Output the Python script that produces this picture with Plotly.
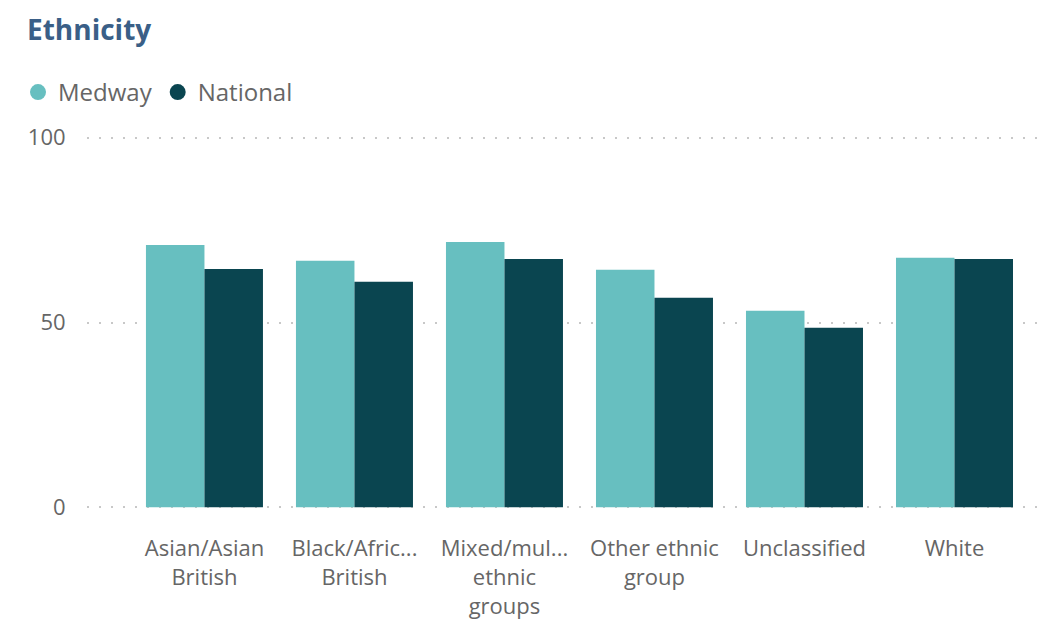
import plotly.graph_objects as go

categories = ["Asian/Asian British", "Black/African/Caribbean/Black British",
              "Mixed/multiple ethnic groups", "Other ethnic group", "Unclassified", "White"]
tick_labels = ["Asian/Asian<br>British", "Black/Afric...<br>British", "Mixed/mul...<br>ethnic<br>groups",
               "Other ethnic<br>group", "Unclassified", "White"]
medway = [71.0, 66.7, 71.8, 64.3, 53.2, 67.5]
national = [64.5, 61.0, 67.2, 56.7, 48.6, 67.2]
y_ticks = [0, 50, 100]

c_medway = "#67bfc0"
c_national = "#0a4550"
font_family = "Segoe UI, Open Sans, sans-serif"

# page offset (body margin) of 8px is taken into account
OFF = 8
plot_left = 87 - OFF
plot_top = 133.6 - OFF
plot_bottom = 511.0 - OFF
plot_h = plot_bottom - plot_top

fig = go.Figure()
fig.add_trace(go.Bar(x=categories, y=medway, name="Medway", marker_color=c_medway,
                     marker_line_width=0, showlegend=False))
fig.add_trace(go.Bar(x=categories, y=national, name="National", marker_color=c_national,
                     marker_line_width=0, showlegend=False))
# legend entries with circle symbols
for nm, col in [("Medway", c_medway), ("National", c_national)]:
    fig.add_trace(go.Scatter(x=[None], y=[None], mode="markers", name=nm,
                             marker=dict(symbol="circle", size=20, color=col)))

plot_w = 1047 - plot_left
fig.update_layout(
    width=1047, height=634,
    margin=dict(l=plot_left, r=0, t=plot_top, b=634 - plot_bottom, pad=0),
    paper_bgcolor="white", plot_bgcolor="white",
    barmode="group", bargap=0.22, bargroupgap=0,
    font=dict(family=font_family, color="#666666"),
    title=dict(text="<b>Ethnicity</b>", xref="container", yref="container",
               x=(27 - OFF) / 1047, xanchor="left", y=1 - (30 - OFF) / 634, yanchor="middle",
               font=dict(size=28, color="#3a5f87", family=font_family)),
    legend=dict(orientation="h", x=(18 - OFF - plot_left) / plot_w, xanchor="left",
                y=1 + (plot_top - (92 - OFF)) / plot_h, yanchor="middle",
                font=dict(size=24, color="#666666"), itemclick=False, bgcolor="rgba(0,0,0,0)",
                traceorder="normal", itemwidth=30),
    xaxis=dict(type="category", range=[-0.783, (1047 - 196.5) / 150], tickmode="array",
               tickvals=categories, ticktext=tick_labels, showgrid=False, zeroline=False,
               showline=False, ticks="outside", ticklen=18, tickcolor="rgba(0,0,0,0)",
               tickfont=dict(size=22, color="#666666")),
    yaxis=dict(range=[-1, 101], tickmode="array", tickvals=y_ticks, showgrid=True,
               gridcolor="#c8c8c8", gridwidth=2, griddash="2px,10px", zeroline=False,
               showline=False, ticks="outside", ticklen=16, tickcolor="rgba(0,0,0,0)",
               tickfont=dict(size=22, color="#666666")),
)

fig.write_html("out.html")
